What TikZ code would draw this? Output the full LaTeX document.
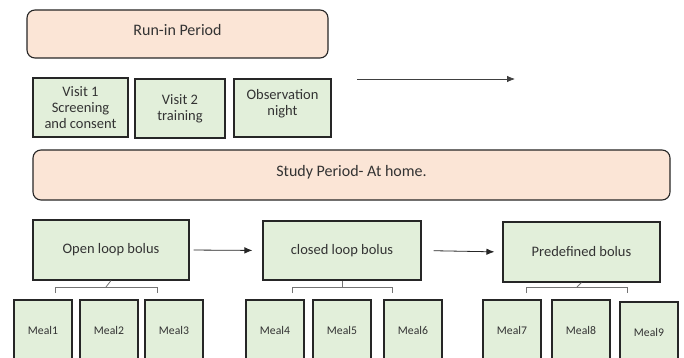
\documentclass[tikz,border=0pt]{standalone}
\usepackage{fontspec}
\setmainfont{Carlito}
\usetikzlibrary{arrows.meta}
\definecolor{periodfill}{HTML}{FBE5D6}
\definecolor{stepfill}{HTML}{E2EFDA}
\definecolor{inktext}{HTML}{333333}
\tikzset{
  box_n/.style = {align=center, inner sep=0pt, text centered,
    font=\fontsize{14.5}{16}\selectfont, text=inktext},
  period_n/.style = {box_n, rounded corners=8pt, draw=black!85, line width=1.1pt,
    fill=periodfill, text depth=9pt, font=\fontsize{16}{18}\selectfont},
  visit_n/.style = {box_n, draw=black!85, line width=1.1pt, fill=stepfill},
  bolus_n/.style = {visit_n},
  meal_n/.style = {box_n, draw=black!85, line width=1.1pt, fill=stepfill,
    font=\fontsize{11.7}{13}\selectfont, minimum width=58pt, minimum height=60pt},
  bracket_l/.style = {-, draw=black!55, line width=0.8pt}}

\begin{document}
\begin{tikzpicture}[x=1pt,y=-1pt,->,>={Latex[length=8pt,width=6.5pt]}]
\useasboundingbox (0,0) rectangle (684,358);
\clip (0,0) rectangle (684,358);

% run-in period
\node [period_n, minimum width=301pt, minimum height=48pt] (runin) at (177.5,34) {Run-in Period};
\node [visit_n, minimum width=95pt, minimum height=59pt] (visit1) at (80.5,107.5) {Visit 1\\Screening\\and consent};
\node [visit_n, minimum width=90pt, minimum height=59pt] (visit2) at (180,108.5) {Visit 2\\training};
\node [visit_n, minimum width=97pt, minimum height=58pt, text depth=12pt] (obs) at (282.5,108) {Observation\\night};
\coordinate (timeline_s) at (357,79);
\coordinate (timeline_e) at (515,79);
\draw [black!75, line width=0.8pt] (timeline_s) -- (timeline_e);

% study period
\node [period_n, minimum width=637pt, minimum height=50pt] (study) at (351.5,175) {Study Period- At home.};
\node [bolus_n, minimum width=156pt, minimum height=60pt] (open) at (111,250) {Open loop bolus};
\node [bolus_n, minimum width=158pt, minimum height=59pt] (closed) at (342,250.5) {closed loop bolus};
\node [bolus_n, minimum width=157pt, minimum height=60pt] (predef) at (581.5,252) {Predefined bolus};
\draw [black!85, line width=0.8pt, shorten <=4pt, shorten >=10pt] (open.east) -- (closed.west);
\draw [black!85, line width=0.8pt, shorten <=12pt, shorten >=8pt] (closed.east) -- (predef.west);

% meals
\foreach \i/\x/\y in {1/43/330, 2/109/330, 3/174/330, 4/275/330, 5/342/330,
    6/413/330, 7/512/330, 8/581/330, 9/649/332}
  \node [meal_n] (meal\i) at (\x,\y) {Meal\i};

% brackets
\draw [bracket_l] (open.south) -- (106,287);
\draw [bracket_l] (55,293) -- (55,287) -- (157,287) -- (157,293);
\draw [bracket_l] (closed.south) -- (342,287);
\draw [bracket_l] (292,293) -- (292,287) -- (392,287) -- (392,293);
\draw [bracket_l] (predef.south) -- (577,287);
\draw [bracket_l] (526,293) -- (526,287) -- (627,287) -- (627,293);
\end{tikzpicture}
\end{document}
